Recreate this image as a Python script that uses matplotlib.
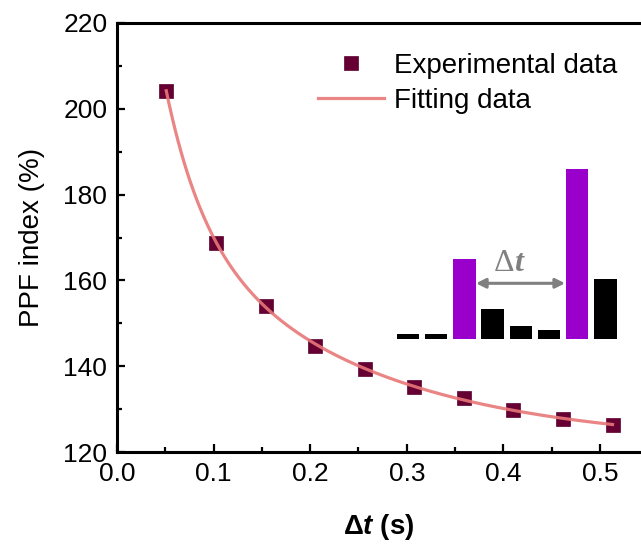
import numpy as np
import matplotlib
matplotlib.use('Agg')
import matplotlib.pyplot as plt

plt.rcParams['font.family'] = ['Liberation Sans', 'DejaVu Sans']
plt.rcParams['mathtext.fontset'] = 'custom'
plt.rcParams['mathtext.rm'] = 'Liberation Sans'
plt.rcParams['mathtext.it'] = 'Liberation Sans:italic'
plt.rcParams['mathtext.bf'] = 'Liberation Sans:bold'
plt.rcParams['mathtext.bfit'] = 'Liberation Sans:bold:italic'

# experimental PPF data
dt = [0.051, 0.103, 0.154, 0.205, 0.257, 0.308, 0.359, 0.410, 0.462, 0.513]
ppf = [204.2, 168.7, 154.1, 144.8, 139.3, 135.2, 132.5, 129.8, 127.8, 126.3]

# inset: schematic pulse responses
pulse_idx = [0, 1, 2, 3, 4, 5, 6, 7]
pulse_h = [5.3, 5.3, 80, 30.3, 13.6, 9.3, 170.3, 60.3]
pulse_col = ['black', 'black', '#9900cc', 'black', 'black', 'black', '#9900cc', 'black']


# double exponential fit, grid over the two time constants
def fit_double_exp(x, y):
    x = np.asarray(x)
    y = np.asarray(y)
    best = None
    for t1 in np.linspace(0.01, 0.2, 60):
        for t2 in np.linspace(0.1, 2.0, 60):
            if t2 <= t1:
                continue
            M = np.column_stack([np.ones_like(x), np.exp(-x / t1), np.exp(-x / t2)])
            c, res, _, _ = np.linalg.lstsq(M, y, rcond=None)
            err = np.sum((M @ c - y) ** 2)
            if best is None or err < best[0]:
                best = (err, t1, t2, c)
    return best[1:]


t1, t2, c = fit_double_exp(dt, ppf)
xf = np.linspace(dt[0], dt[-1], 300)
yf = c[0] + c[1] * np.exp(-xf / t1) + c[2] * np.exp(-xf / t2)

fig = plt.figure(figsize=(6.41, 5.45), dpi=100)
ax = fig.add_axes([0.1825, 0.1706, 0.8175, 0.7872])

ax.plot(dt, ppf, 's', color='#660033', markersize=10, markeredgecolor='#5a0030',
        markeredgewidth=0.5, label='Experimental data', zorder=2)
ax.plot(xf, yf, '-', color='#e87878', lw=2.3, alpha=0.9, label='Fitting data', zorder=3)

ax.set_xlim(0, 0.5425)
ax.set_ylim(120, 220)
ax.set_xticks([0.0, 0.1, 0.2, 0.3, 0.4, 0.5])
ax.set_xticks(np.arange(0.05, 0.55, 0.1), minor=True)
ax.set_yticks([120, 140, 160, 180, 200, 220])
ax.set_yticks([130, 150, 170, 190, 210], minor=True)
ax.set_xticklabels(['0.0', '0.1', '0.2', '0.3', '0.4', '0.5'])

for s in ['left', 'bottom', 'top']:
    ax.spines[s].set_linewidth(2.2)
ax.spines['right'].set_visible(False)
ax.tick_params(which='both', direction='in', width=1.6, labelsize=19, top=False, right=False)
ax.tick_params(which='major', length=6, pad=7)
ax.tick_params(which='minor', length=3.6)

ax.set_ylabel('PPF index (%)', fontsize=20, labelpad=13)
ax.set_xlabel(r'$\mathbf{\Delta}\mathbfit{t}$ $\mathbf{(s)}$', fontsize=20, labelpad=19)

ax.legend(loc='upper left', bbox_to_anchor=(0.347, 0.975), frameon=False, fontsize=20,
          handlelength=2.35, handletextpad=0.38, labelspacing=0.32, borderpad=0.2)

# inset bars
ins = fig.add_axes([393.9 / 641, 1 - 339.3 / 545, 225.6 / 641, 180 / 545])
ins.bar(pulse_idx, pulse_h, width=0.8, color=pulse_col)
ins.set_xlim(-0.5, 7.5)
ins.set_ylim(0, 180)
ins.axis('off')
ins.annotate('', xy=(2.41, 56), xytext=(5.57, 56),
             arrowprops=dict(arrowstyle='<|-|>', color='#808080', lw=2.2,
                             mutation_scale=14, shrinkA=0, shrinkB=0))
ins.text(3.76, 76, 'Δ', ha='right', va='center', fontsize=23, color='#808080',
         family='Liberation Serif')
ins.text(3.76, 76, 't', ha='left', va='center', fontsize=23, color='#808080',
         family='Liberation Serif', fontstyle='italic', fontweight='bold')

fig.savefig('out.png', dpi=100)
